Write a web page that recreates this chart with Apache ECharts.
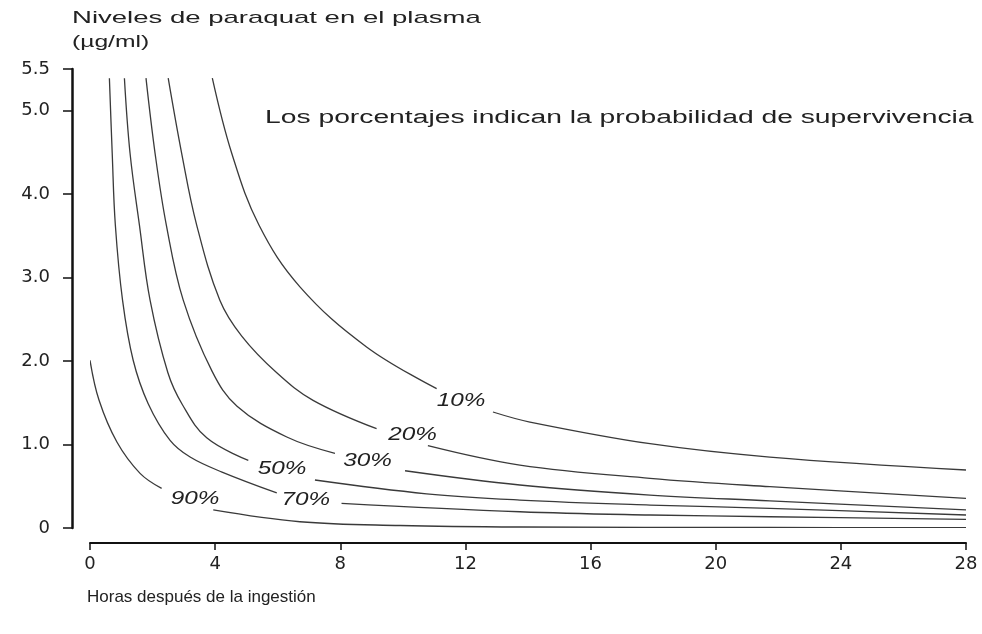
<!DOCTYPE html>
<html><head><meta charset="utf-8">
<script src="https://cdn.jsdelivr.net/npm/echarts@6/dist/echarts.min.js"></script>
<style>html,body{margin:0;padding:0;background:#fff}#c{width:982px;height:634px}</style>
</head><body><div id="c"></div>
<script>
// Axis ticks
const xTicks = [0, 4, 8, 12, 16, 20, 24, 28];
const yTicks = [0, 1, 2, 3, 4, 5, 5.5];

// Curves: [hours after ingestion, plasma paraquat µg/ml]; null marks the gap where the label sits
const curve10 = [[3.91,5.39],[4.53,4.49],[5.40,3.63],[6.71,2.89],[8.84,2.17],[11.08,1.67],[12.0,null],[12.88,1.39],[14.06,1.27],[17.9,1.01],[21.73,0.85],[28,0.695]];
const curve20 = [[2.50,5.39],[2.93,4.49],[3.41,3.63],[4.15,2.73],[4.85,2.30],[5.97,1.86],[7.13,1.53],[9.16,1.19],[10.0,null],[10.80,0.986],[13.74,0.754],[17.9,0.595],[21.73,0.495],[28,0.356]];
const curve30 = [[1.79,5.39],[2.08,4.49],[2.44,3.63],[2.98,2.73],[3.90,1.88],[4.70,1.46],[6.29,1.09],[7.83,0.895],[8.9,null],[10.07,0.686],[13.74,0.515],[17.9,0.395],[21.73,0.326],[28,0.216]];
const curve50 = [[1.10,5.39],[1.28,4.49],[1.58,3.63],[1.92,2.73],[2.49,1.86],[2.95,1.48],[3.73,1.08],[5.06,0.81],[6.1,null],[7.19,0.575],[10.76,0.41],[13.74,0.335],[17.9,0.275],[21.73,0.236],[28,0.156]];
const curve70 = [[0.62,5.39],[0.71,4.49],[0.81,3.63],[1.04,2.73],[1.38,2.01],[1.86,1.49],[2.56,1.05],[3.20,0.85],[4.22,0.67],[5.97,0.42],[6.9,null],[8.04,0.296],[13.74,0.195],[17.9,0.156],[21.73,0.135],[28,0.104]];
const curve90 = [[0,2.01],[0.29,1.53],[0.86,1.03],[1.60,0.655],[2.29,0.475],[3.1,null],[3.94,0.216],[6.71,0.075],[9.91,0.03],[13.74,0.012],[21.73,0.006],[28,0.003]];

// Curve labels (survival probability)
const labelTexts = ['10%', '20%', '30%', '50%', '70%', '90%'];
const labelT = [11.86, 10.31, 8.87, 6.14, 6.90, 3.36];
const labelV = [1.52, 1.11, 0.80, 0.71, 0.34, 0.35];

const curves = [curve10, curve20, curve30, curve50, curve70, curve90];

// Each curve is drawn through the cartesian scales (api.coord) as a smooth polyline, broken at null gaps
function renderCurve(params, api) {
  const pts = curves[params.dataIndex];
  const segments = [];
  let seg = [];
  pts.forEach(p => {
    if (p[1] === null) { if (seg.length) segments.push(seg); seg = []; }
    else seg.push(api.coord(p));
  });
  if (seg.length) segments.push(seg);
  return {
    type: 'group',
    children: segments.map(s => ({
      type: 'polyline',
      shape: { points: s, smooth: 0.38 },
      style: { stroke: '#3a3a3a', lineWidth: 1.3, fill: null }
    }))
  };
}

const chart = echarts.init(document.getElementById('c'));
chart.setOption({
  animation: false,
  backgroundColor: '#fff',
  grid: { left: 90, right: 16, top: 69, bottom: 106, containLabel: false },
  xAxis: {
    type: 'value', min: 0, max: 28, interval: 4, offset: 15,
    axisLine: { show: true, onZero: false, lineStyle: { color: '#111', width: 2 } },
    axisTick: { show: true, length: 7, lineStyle: { color: '#111', width: 1.5 } },
    axisLabel: { margin: 12, fontSize: 18, fontFamily: 'DejaVu Sans', color: '#222', customValues: xTicks },
    splitLine: { show: false }
  },
  yAxis: {
    type: 'value', min: 0, max: 5.5, offset: 18,
    axisLine: { show: true, onZero: false, lineStyle: { color: '#111', width: 2.5 } },
    axisTick: { show: true, length: 9, lineStyle: { color: '#111', width: 1.5 }, customValues: yTicks },
    axisLabel: {
      margin: 22, fontSize: 18, fontFamily: 'DejaVu Sans', color: '#222',
      customValues: yTicks,
      formatter: v => (v === 0 ? '0' : v.toFixed(1))
    },
    splitLine: { show: false }
  },
  graphic: [
    { type: 'text', x: 72, y: 18, scaleX: 1.62, style: { text: 'Niveles de paraquat en el plasma', fontSize: 17, fontFamily: 'Liberation Sans', fill: '#222', verticalAlign: 'middle' } },
    { type: 'text', x: 72, y: 42, scaleX: 1.45, style: { text: '(µg/ml)', fontSize: 17, fontFamily: 'Liberation Sans', fill: '#222', verticalAlign: 'middle' } },
    { type: 'text', x: 265, y: 118, scaleX: 1.57, style: { text: 'Los porcentajes indican la probabilidad de supervivencia', fontSize: 18, fontFamily: 'Liberation Sans', fill: '#222', verticalAlign: 'middle' } },
    { type: 'text', x: 87, y: 597, style: { text: 'Horas después de la ingestión', fontSize: 17, fontFamily: 'Liberation Sans', fill: '#222', verticalAlign: 'middle' } }
  ],
  series: [
    {
      type: 'custom',
      name: 'curvas',
      data: curves.map((c, i) => [c[0][0], c[0][1], i]),
      encode: { x: 0, y: 1 },
      silent: true,
      clip: true,
      renderItem: renderCurve
    },
    {
      type: 'custom',
      name: 'etiquetas',
      data: labelT.map((t, i) => [t, labelV[i]]),
      encode: { x: 0, y: 1 },
      silent: true,
      renderItem: (params, api) => {
        const p = api.coord([api.value(0), api.value(1)]);
        return {
          type: 'text', x: p[0], y: p[1], scaleX: 1.35,
          style: {
            text: labelTexts[params.dataIndex], fontSize: 18, fontStyle: 'italic',
            fontFamily: 'Liberation Sans', fill: '#222', align: 'center', verticalAlign: 'middle'
          }
        };
      }
    }
  ]
});
</script>
</body></html>
